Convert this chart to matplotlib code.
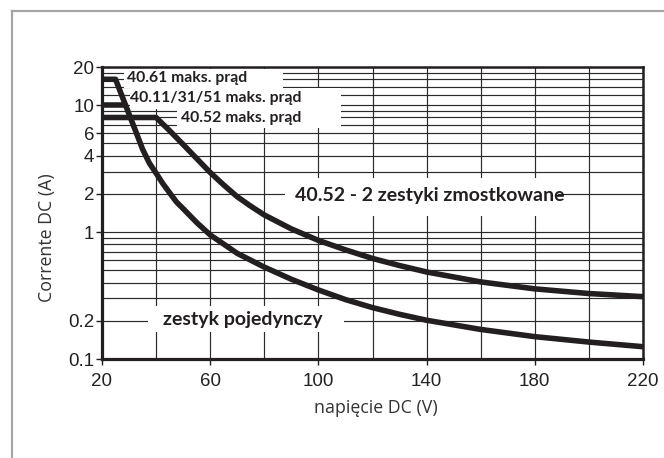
import matplotlib
matplotlib.use("Agg")
import matplotlib.pyplot as plt
from matplotlib.patches import Rectangle
from matplotlib.lines import Line2D

# curve: single contact (zestyk pojedynczy), incl. 40.61 max current
v_single = [20, 25, 30, 32.5, 35, 37.5, 40, 42.5, 45, 47.5, 50, 55, 60, 70, 80, 90,
            100, 110, 120, 130, 140, 160, 180, 200, 220]
i_single = [16, 16, 8.5, 6.2, 4.5, 3.5, 2.91, 2.41, 2.04, 1.73, 1.53, 1.19, 0.95,
            0.68, 0.53, 0.425, 0.35, 0.294, 0.254, 0.225, 0.202, 0.171, 0.15,
            0.136, 0.125]

# curve: 40.52 with 2 contacts in series
v_bridge = [20, 40, 45, 50, 55, 60, 65, 70, 75, 80, 90, 100, 110, 120, 130, 140,
            160, 180, 200, 220]
i_bridge = [8, 8, 6.3, 4.9, 3.8, 2.95, 2.35, 1.9, 1.6, 1.365, 1.06, 0.86, 0.725,
            0.62, 0.545, 0.485, 0.405, 0.357, 0.328, 0.31]

# 40.11/31/51 max current line
v_max10 = [20, 29]
i_max10 = [10, 10]

x_ticks = [20, 60, 100, 140, 180, 220]
x_grid = [40, 80, 120, 160, 200]
y_ticks = [0.1, 0.2, 1, 2, 4, 6, 10, 20]
y_tick_labels = ["0.1", "0.2", "1", "2", "4", "6", "10", "20"]
y_grid = [0.3, 0.4, 0.5, 0.6, 0.7, 0.8, 0.9, 3, 5, 7, 8, 9, 12, 14, 16, 18]

W, H = 664, 458
AX_L, AX_R, AX_T, AX_B = 102, 643, 67, 359


def fx(px):
    return (px - AX_L) / (AX_R - AX_L)


def fy(py):
    return (AX_B - py) / (AX_B - AX_T)


fig = plt.figure(figsize=(W / 100, H / 100), dpi=100)
ax = fig.add_axes([AX_L / W, 1 - AX_B / H, (AX_R - AX_L) / W, (AX_B - AX_T) / H])

ax.set_yscale("log")
ax.set_xlim(20, 220)
ax.set_ylim(0.1, 20)

ax.set_xticks(x_ticks)
ax.set_xticks(x_grid, minor=True)
ax.set_yticks(y_ticks)
ax.set_yticklabels(y_tick_labels)
ax.set_yticks(y_grid, minor=True)
ax.yaxis.set_minor_formatter(plt.NullFormatter())

dark = "#231f20"
ax.grid(True, which="both", color="#2a2a2a", lw=0.85, zorder=1)
ax.set_axisbelow(True)
ax.tick_params(which="major", direction="out", length=4, width=1, color=dark,
               labelsize=13.5, labelcolor="#222222")
ax.tick_params(axis="y", which="major", pad=1.5)
ax.tick_params(axis="x", which="major", pad=6)
ax.tick_params(which="minor", length=0)
for lab in ax.get_xticklabels() + ax.get_yticklabels():
    lab.set_fontfamily("Liberation Sans")

for side in ["left", "bottom"]:
    ax.spines[side].set_linewidth(2.3)
    ax.spines[side].set_color(dark)
for side in ["top", "right"]:
    ax.spines[side].set_linewidth(1.8)
    ax.spines[side].set_color(dark)

# white masks behind the labels
masks = [(124, 283, 69, 88), (130, 341, 88, 109), (177, 341, 109, 128),
         (285, 558, 178, 216), (148, 344, 306, 332)]
for x0, x1, y0, y1 in masks:
    ax.add_patch(Rectangle((fx(x0), fy(y1)), fx(x1) - fx(x0), fy(y0) - fy(y1),
                           transform=ax.transAxes, fc="white", ec="none", zorder=2))

ax.plot(v_single, i_single, color=dark, lw=4, solid_joinstyle="round",
        solid_capstyle="butt", zorder=4, clip_on=False)
ax.plot(v_bridge, i_bridge, color=dark, lw=4, solid_joinstyle="round",
        solid_capstyle="butt", zorder=4, clip_on=False)
ax.plot(v_max10, i_max10, color=dark, lw=4, solid_capstyle="butt", zorder=4)

small = dict(fontfamily="Lato", fontweight="bold", fontsize=11.3, color=dark,
             va="center", transform=ax.transAxes, zorder=3)
big = dict(small, fontsize=14)
ax.text(fx(127), fy(78), "40.61 maks. prąd", ha="left", **small)
ax.text(fx(301), fy(98), "40.11/31/51 maks. prąd", ha="right", **small)
ax.text(fx(301), fy(118), "40.52 maks. prąd", ha="right", **small)
ax.text(fx(295), fy(196), "40.52 - 2 zestyki zmostkowane", ha="left", **big)
ax.text(fx(163), fy(320), "zestyk pojedynczy", ha="left", **big)

fig.text(376 / W, 1 - 408 / H, "napięcie DC (V)", ha="center", va="center",
         fontfamily="Open Sans", fontsize=12.8, color="#333333")
fig.text(47 / W, 1 - 238 / H, "Corrente DC (A)", ha="center", va="center",
         rotation=90, fontfamily="Open Sans", fontsize=12.8, color="#333333")

# grey frame (top and left edges)
frame = "#a5a5a5"
fig.add_artist(Line2D([12 / W, 12 / W], [0, 1 - 11 / H], color=frame, lw=1.6,
                      transform=fig.transFigure))
fig.add_artist(Line2D([12 / W, 1], [1 - 11 / H, 1 - 11 / H], color=frame, lw=1.6,
                      transform=fig.transFigure))

fig.savefig("out.png", dpi=100)
